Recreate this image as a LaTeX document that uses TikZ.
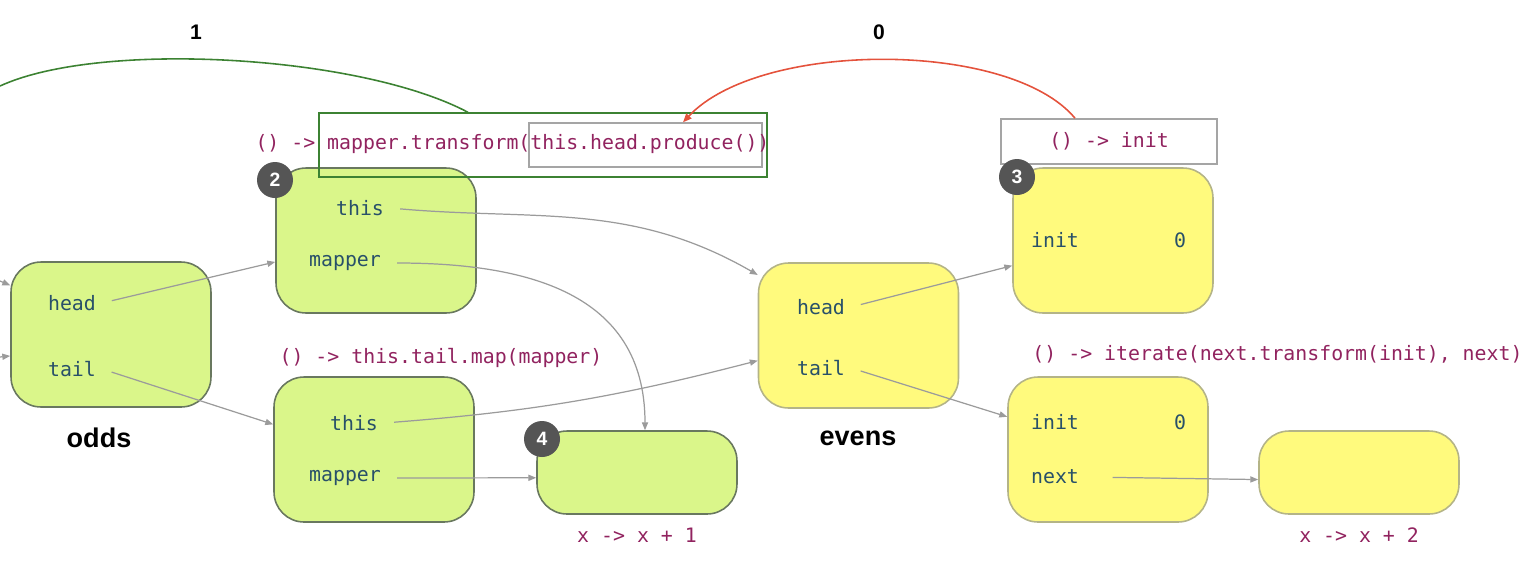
\documentclass[tikz,border=0pt]{standalone}
\usepackage{fontspec}
\setmainfont{Liberation Sans}
\setsansfont{Liberation Sans}
\setmonofont{DejaVu Sans Mono}
\usetikzlibrary{arrows.meta, positioning}
\definecolor{oddsgreen}{RGB}{218,246,138}
\definecolor{evensyellow}{RGB}{255,250,125}
\definecolor{greenborder}{RGB}{105,120,95}
\definecolor{yellowborder}{RGB}{180,180,135}
\definecolor{fieldcol}{RGB}{40,80,105}
\definecolor{lambdacol}{RGB}{145,35,95}
\definecolor{linkgray}{RGB}{155,155,155}
\definecolor{framegray}{RGB}{165,165,165}
\definecolor{greenline}{RGB}{60,130,50}
\definecolor{redline}{RGB}{228,82,60}
\definecolor{badgegray}{RGB}{85,85,85}

\begin{document}
\begin{tikzpicture}[x=0.02cm, y=-0.02cm,
    objbox/.style={rectangle, rounded corners=0.6cm, minimum width=4cm, minimum height=2.9cm, line width=0.9pt},
    greenbox/.style={objbox, fill=oddsgreen, draw=greenborder},
    yellowbox/.style={objbox, fill=evensyellow, draw=yellowborder},
    field/.style={font=\ttfamily\fontsize{11.3}{13}\selectfont, text=fieldcol},
    lambda/.style={font=\ttfamily\fontsize{11.3}{13}\selectfont, text=lambdacol},
    badge/.style={circle, fill=badgegray, text=white, font=\sffamily\bfseries\fontsize{11}{13}\selectfont, minimum size=0.72cm, inner sep=0pt},
    link/.style={draw=linkgray, line width=0.7pt, shorten <=0.2cm, -{Triangle[length=4.5pt,width=3.5pt]}},
    namelabel/.style={font=\sffamily\bfseries\fontsize{15.4}{18}\selectfont},
    countlabel/.style={font=\sffamily\bfseries\fontsize{12}{14}\selectfont}]
    \useasboundingbox (0,0) rectangle (1534,579);

    % Boxes for the odds side
    \node[greenbox] (odds) at (111,334.5) {};
    \node[greenbox] (mapfn) at (376,240.5) {};
    \node[greenbox] (tailfn) at (374,449.5) {};
    \node[greenbox, minimum height=1.66cm] (inc) at (637,472.5) {};

    % Boxes for the evens side
    \node[yellowbox] (evens) at (858.5,335.5) {};
    \node[yellowbox] (initfn) at (1113,240.5) {};
    \node[yellowbox] (iter) at (1108,449.5) {};
    \node[yellowbox, minimum height=1.66cm] (inctwo) at (1359,472.5) {};

    % Fields inside the boxes
    \node[field] (oddshead) at (72,303) {head};
    \node[field] (oddstail) at (72,369) {tail};
    \node[field] (mapthis) at (360,208) {this};
    \node[field] (mapmapper) at (345,263) {mapper};
    \node[field] (tailthis) at (354,423) {this};
    \node[field] (tailmapper) at (345,478) {mapper};
    \node[field] (evenshead) at (821,307) {head};
    \node[field] (evenstail) at (821,368) {tail};
    \node[field] (initname) at (1055,240) {init};
    \node[field] (initval) at (1180,240) {0};
    \node[field] (iterinit) at (1055,422) {init};
    \node[field] (iterval) at (1180,422) {0};
    \node[field] (iternext) at (1055,477) {next};

    % Lambdas
    \node[draw=greenline, line width=0.8pt, minimum width=8.96cm, minimum height=1.28cm] (prodframe) at (543,145) {};
    \node[draw=framegray, line width=0.8pt, minimum width=4.66cm, minimum height=0.88cm] (prodinner) at (645.5,145) {};
    \node[lambda] (maplam) at (512.5,144) {() -> mapper.transform(this.head.produce())};
    \node[lambda] (taillam) at (441,358) {() -> this.tail.map(mapper)};
    \node[lambda, draw=framegray, line width=0.9pt, minimum width=4.32cm, minimum height=0.9cm] (initlam) at (1109,141.5) {() -> init};
    \node[lambda] (iterlam) at (1277.5,354) {() -> iterate(next.transform(init), next)};
    \node[lambda] (inclam) at (637,535) {x -> x + 1};
    \node[lambda] (inctwolam) at (1359,535) {x -> x + 2};

    % Names
    \node[namelabel] (oddsname) at (99,438) {odds};
    \node[namelabel] (evensname) at (858,438) {evens};

    % Badges
    \node[badge] (badgetwo) at (275,180) {2};
    \node[badge] (badgethree) at (1017,177) {3};
    \node[badge] (badgefour) at (542,439) {4};

    % Arrows between boxes
    \coordinate (oddsin) at (0,281);
    \coordinate (oddsintwo) at (0,357);
    \draw[link, shorten <=0pt] (oddsin) -- (odds.154);
    \draw[link, shorten <=0pt] (oddsintwo) -- (odds.192.6);
    \draw[link] (oddshead.east) -- (mapfn.192);
    \draw[link] (oddstail.east) -- (tailfn.166);
    \draw[link] (mapthis.east) to[out=-5, in=150] (evens.149.5);
    \draw[link] (mapmapper.east) to[out=0, in=90, looseness=1.15] ([xshift=0.16cm]inc.north);
    \draw[link] (tailthis.east) to[bend right=5] (evens.194);
    \draw[link] (tailmapper.east) -- (inc.183);
    \draw[link] (evenshead.east) -- (initfn.194);
    \draw[link] (evenstail.east) -- (iter.162.5);
    \draw[link, shorten <=0.55cm] (iternext.east) -- (inctwo.184);

    % Calls on top
    \coordinate (oddsout) at (0,86);
    \draw[greenline, line width=0.9pt] ([xshift=-1.5cm]prodframe.north) .. controls (360,55) and (100,40) .. (oddsout);
    \draw[redline, line width=0.9pt, -{Triangle[length=5pt,width=4pt]}] ([xshift=-0.68cm]initlam.north) .. controls (1010,40) and (760,40) .. ([xshift=0.75cm]prodinner.north);
    \node[countlabel] (one) at (196,32) {1};
    \node[countlabel] (zero) at (879,32) {0};
\end{tikzpicture}
\end{document}
